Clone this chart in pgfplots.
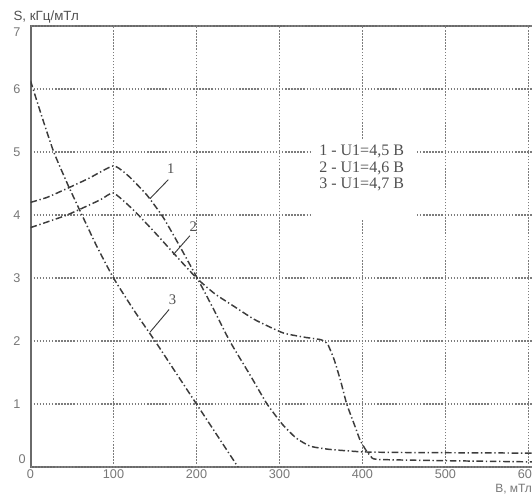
\documentclass[border=0pt]{standalone}
\usepackage{pgfplots}
\pgfplotsset{compat=1.18}
\usepackage{fontspec}
\setmainfont{Liberation Sans}
\newfontfamily\serif{Liberation Serif}
\definecolor{axgray}{HTML}{6A6A6A}
\definecolor{gridgray}{HTML}{7C7C7C}
\definecolor{curvecol}{HTML}{3C3C3C}
\definecolor{tickgray}{HTML}{777777}
\definecolor{labgray}{HTML}{505050}

\begin{document}
\begin{tikzpicture}
\useasboundingbox (0,0) rectangle (399pt,371.25pt);
\clip (0,0) rectangle (399pt,371.25pt);
\begin{axis}[
  at={(22.875pt,21pt)}, anchor=south west,
  scale only axis, width=379.7pt, height=330.75pt,
  xmin=0, xmax=610, ymin=0, ymax=7,
  xtick={0,100,...,600}, ytick={1,2,...,6},
  extra y ticks={0,7},
  extra y tick labels={\smash{\raisebox{2.6pt}{0}}\hspace*{-4pt},\smash{\raisebox{-7.9pt}{7}}},
  grid=major,
  major grid style={gridgray, line width=0.8pt, dash pattern=on 1.1pt off 1.2pt},
  axis line style={axgray, line width=1.5pt},
  major tick length=0pt,
  tick label style={tickgray, font=\fontsize{9.5}{10}\selectfont},
  /pgf/number format/assume math mode=true,
  xticklabel style={yshift=1.5pt},
  yticklabel style={xshift=-4pt},
  curve/.style={curvecol, line width=1.1pt, dash pattern=on 5pt off 2pt on 1pt off 2pt},
]
% white box behind the legend text
\fill[white] (axis cs:340,3.92) rectangle (axis cs:466,5.19);

% curve 1
\addplot[curve, smooth, tension=0.3] coordinates {
 (0,4.2) (20,4.28) (44,4.42) (70,4.58) (100,4.78) (118,4.62) (140,4.32) (160,3.96)
 (180,3.5) (200,3.02) (220,2.52) (240,2.0) (265,1.45) (285,1.0) (304,0.67)
 (320,0.46) (337,0.33) (360,0.28) (400,0.24) (450,0.23) (610,0.22)};
% curve 2
\addplot[curve, smooth, tension=0.3] coordinates {
 (0,3.8) (44,4.0) (84,4.24) (100,4.35) (124,4.08) (150,3.72) (172,3.4) (200,3.0)
 (222,2.75) (244,2.56) (270,2.34) (304,2.13) (330,2.06) (350,2.02) (358,1.95)
 (366,1.7) (374,1.35) (381,1.0) (390,0.68) (397,0.43) (404,0.27) (410,0.17)
 (418,0.12) (500,0.1) (610,0.08)};
% curve 3
\addplot[curve, smooth, tension=0.3] coordinates {
 (0,6.13) (14,5.55) (28,5.0) (45,4.48) (62,4.0) (80,3.5) (100,3.0) (125,2.48)
 (150,2.0) (175,1.5) (200,1.0) (225,0.5) (250,0)};

% leader lines
\addplot[curvecol, line width=0.7pt] coordinates {(144,4.26) (166,4.56)};
\addplot[curvecol, line width=0.7pt] coordinates {(172,3.37) (192,3.67)};
\addplot[curvecol, line width=0.7pt] coordinates {(144,2.14) (167,2.5)};

\node[labgray, font=\serif\fontsize{11}{11}\selectfont] at (axis cs:169,4.74) {1};
\node[labgray, font=\serif\fontsize{11}{11}\selectfont] at (axis cs:196,3.82) {2};
\node[labgray, font=\serif\fontsize{11}{11}\selectfont] at (axis cs:171,2.66) {3};

\node[labgray, align=left, inner sep=0pt, font=\serif\fontsize{12}{12.4}\selectfont]
  at (axis cs:399,4.74) {1 - U1=4,5 B\\2 - U1=4,6 B\\3 - U1=4,7 B};
\end{axis}
\node[anchor=base west, inner sep=0pt, text=labgray, font=\fontsize{10}{10}\selectfont] at (10pt,355.5pt) {S, кГц/мТл};
\node[anchor=base west, inner sep=0pt, text=tickgray, font=\fontsize{9}{9}\selectfont] at (371.25pt,1.5pt) {B, мТл};
\end{tikzpicture}
\end{document}
